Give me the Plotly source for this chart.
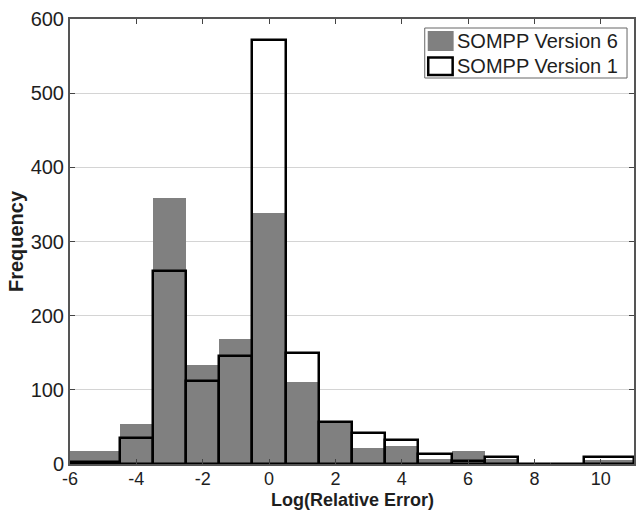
import plotly.graph_objects as go

# Bin edges (Log(Relative Error)) and frequencies
bin_edges = [-6, -4.5, -3.5, -2.5, -1.5, -0.5, 0.5, 1.5, 2.5, 3.5, 4.5, 5.5, 6.5, 7.5, 8.5, 9.5, 11]
version6 = [17, 54, 358, 134, 169, 339, 110, 56, 21, 24, 7, 18, 7, 0, 0, 6]
version1 = [3, 35, 260, 112, 145, 572, 150, 56, 42, 33, 14, 4, 9, 0, 0, 9]
series_names = ["SOMPP Version 6", "SOMPP Version 1"]
x_ticks = [-6, -4, -2, 0, 2, 4, 6, 8, 10]
y_ticks = [0, 100, 200, 300, 400, 500, 600]
x_title = "Log(Relative Error)"
y_title = "Frequency"

centers = [(a + b) / 2 for a, b in zip(bin_edges[:-1], bin_edges[1:])]
widths = [b - a for a, b in zip(bin_edges[:-1], bin_edges[1:])]

FONT = "Liberation Sans, Arial, Helvetica, sans-serif"
TXT = "#1e1e1e"
W, H = 636, 511
ML, MR, MT, MB = 70, 0, 19, 47
PW, PH = W - ML - MR, H - MT - MB

fig = go.Figure()
fig.add_trace(go.Bar(
    x=centers, y=version6, width=widths, name=series_names[0], showlegend=False,
    marker=dict(color="#808080", line=dict(width=0)),
))
fig.add_trace(go.Bar(
    x=centers, y=version1, width=widths, name=series_names[1], showlegend=False,
    marker=dict(color="rgba(255,255,255,0)", line=dict(color="#000000", width=2.5)),
))

# Legend box drawn in paper coordinates (pixel positions converted)
def px(x):
    return (x - ML) / PW

def py(y):
    return (H - MB - y) / PH

shapes = [
    dict(type="rect", xref="paper", yref="paper",
         x0=px(426), x1=px(629), y0=py(78), y1=py(28),
         line=dict(color="#666666", width=1), fillcolor="white", layer="above"),
    dict(type="rect", xref="paper", yref="paper",
         x0=px(429), x1=px(455), y0=py(51), y1=py(31),
         line=dict(width=0), fillcolor="#808080", layer="above"),
    dict(type="rect", xref="paper", yref="paper",
         x0=px(429.5), x1=px(454), y0=py(75), y1=py(57.5),
         line=dict(color="#000000", width=2.5), fillcolor="white", layer="above"),
]
annotations = [
    dict(xref="paper", yref="paper", x=px(456), y=py(40.5), text=series_names[0],
         showarrow=False, xanchor="left", yanchor="middle",
         font=dict(family=FONT, size=20, color=TXT)),
    dict(xref="paper", yref="paper", x=px(456), y=py(66), text=series_names[1],
         showarrow=False, xanchor="left", yanchor="middle",
         font=dict(family=FONT, size=20, color=TXT)),
    # x-axis title placed at the bottom edge, just under the tick labels
    dict(xref="paper", yref="paper", x=0.5, y=py(512), text="<b>" + x_title + "</b>",
         showarrow=False, xanchor="center", yanchor="bottom",
         font=dict(family=FONT, size=18, color=TXT)),
]

fig.update_layout(
    width=W, height=H,
    margin=dict(l=ML, r=MR, t=MT, b=MB),
    paper_bgcolor="white", plot_bgcolor="white",
    barmode="overlay", bargap=0,
    font=dict(family=FONT, size=20, color=TXT),
    showlegend=False,
    shapes=shapes, annotations=annotations,
)
fig.update_xaxes(
    range=[-6, 11], tickvals=x_ticks, ticktext=[str(v) for v in x_ticks],
    ticks="inside", ticklen=5, tickwidth=1, tickcolor="#444444",
    ticklabelstandoff=-3,
    showline=True, linecolor="#555555", linewidth=2, mirror="ticks",
    showgrid=False, zeroline=False,
    tickfont=dict(family=FONT, size=18, color=TXT),
)
fig.update_yaxes(
    range=[0, 600], tickvals=y_ticks, ticktext=[str(v) for v in y_ticks],
    ticks="inside", ticklen=5, tickwidth=1, tickcolor="#444444",
    showline=True, linecolor="#555555", linewidth=2, mirror="ticks",
    showgrid=True, gridcolor="#d4d4d4", gridwidth=1,
    zeroline=False,
    tickfont=dict(family=FONT, size=20, color=TXT),
    title=dict(text="<b>" + y_title + "</b>", standoff=2,
               font=dict(family=FONT, size=20, color=TXT)),
)

fig.write_html("out.html")
